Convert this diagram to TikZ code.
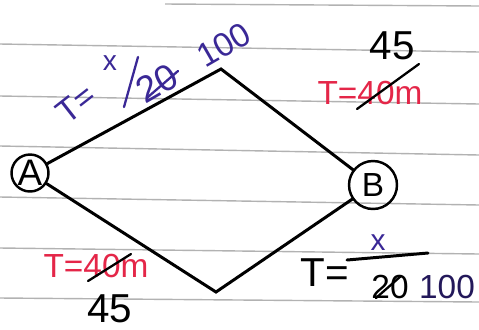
\documentclass[tikz,border=0pt]{standalone}
\usepackage{fontspec}
\setmainfont{Liberation Sans}
\usetikzlibrary{positioning}

\definecolor{inkblue}{RGB}{58,40,150}
\definecolor{inkred}{RGB}{228,38,72}
\definecolor{ruled}{RGB}{178,178,178}

\tikzset{
  route/.style={line width=1.7pt, line cap=round},
  strike/.style={line width=1.3pt, line cap=round},
  station/.style={circle, draw, line width=1.4pt, inner sep=0pt},
  hand/.style={font=\fontsize{19}{19}\selectfont, inner sep=0pt},
  big/.style={font=\fontsize{23}{23}\selectfont, inner sep=0pt},
}

\begin{document}
\begin{tikzpicture}[x=0.02cm, y=-0.02cm]
\useasboundingbox (0,0) rectangle (479,329);

% ruled paper
\draw[ruled, line width=0.8pt] (165,4) -- (479,6);
\foreach \l/\r in {44/52, 96/104, 146/155, 197/205, 248/254, 298/302}
  \draw[ruled, line width=0.8pt] (0,\l) -- (479,\r);

% stations
\node[station, minimum size=0.74cm, font=\fontsize{21}{21}\selectfont] (A) at (30,173) {A};
\node[station, minimum size=0.96cm, font=\fontsize{19}{19}\selectfont] (B) at (373,185) {B};
\coordinate (top) at (221,69);
\coordinate (bot) at (216,292);

% routes
\draw[route] (A) -- (top) -- (B);
\draw[route] (A) -- (bot) -- (B);

% top left
\node[hand, inkblue, rotate=38] (tlT) at (76,104) {T=};
\node[inkblue, inner sep=0pt, font=\fontsize{16}{16}\selectfont] (tlx) at (110,63) {x};
\draw[strike, inkblue] (124,107) -- (138,57);
\node[inkblue, inner sep=0pt, font=\fontsize{21}{21}\selectfont, rotate=30] (tl20) at (157,83) {20};
\draw[strike, inkblue] (148,97) -- (178,71);
\node[hand, inkblue, rotate=30] (tl100) at (224,45) {100};

% top right
\node[big] (tr45) at (392,46) {45};
\node[hand, inkred] (trT) at (370,93) {T=40m};
\draw[strike] (357,109) -- (419,64);

% bottom left
\node[hand, inkred] (blT) at (96,266) {T=40m};
\draw[strike] (88,281) -- (131,254);
\node[big] (bl45) at (110,309) {45};

% bottom right
\node[big] (brT) at (325,273) {T=};
\draw[route] (347,260) -- (428,253);
\node[inkblue, inner sep=0pt, font=\fontsize{17}{17}\selectfont] (brx) at (378,243) {x};
\node[hand] (br20) at (390,287) {20};
\draw[strike] (376,298) -- (401,276);
\node[hand, inkblue!60!black] (br100) at (447,287) {100};

\end{tikzpicture}
\end{document}
